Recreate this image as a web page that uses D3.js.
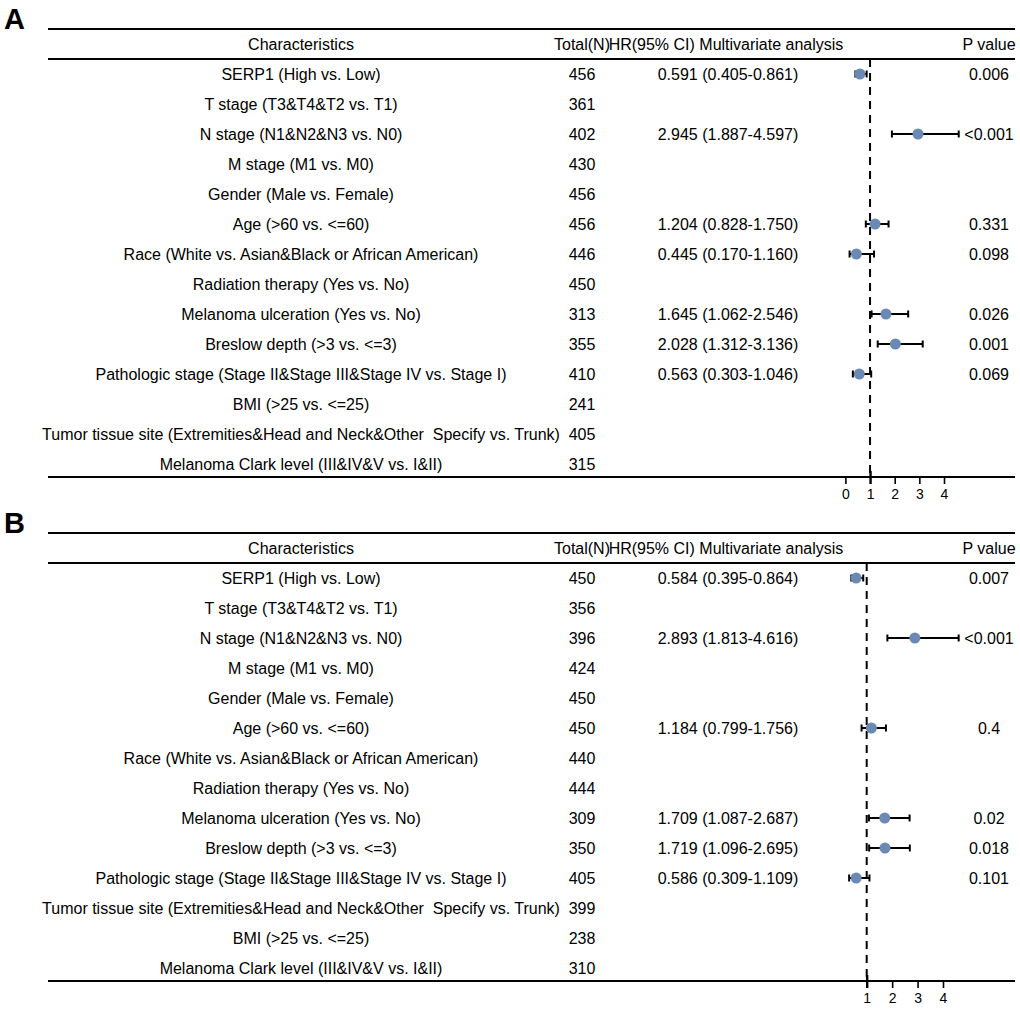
<!DOCTYPE html>
<html>
  <head>
    <meta charset="utf-8" />
    <style>
      body { margin: 0; background: #fff; }
      text { font-family: "Liberation Sans", Arial, sans-serif; fill: #000; white-space: pre; }
    </style>
  </head>
  <body>
    <svg width="1020" height="1029"></svg>
    <script src="https://d3js.org/d3.v7.min.js"></script>
    <script>
      // rows, panel A
      var charsA = [
        "SERP1 (High vs. Low)",
        "T stage (T3&T4&T2 vs. T1)",
        "N stage (N1&N2&N3 vs. N0)",
        "M stage (M1 vs. M0)",
        "Gender (Male vs. Female)",
        "Age (>60 vs. <=60)",
        "Race (White vs. Asian&Black or African American)",
        "Radiation therapy (Yes vs. No)",
        "Melanoma ulceration (Yes vs. No)",
        "Breslow depth (>3 vs. <=3)",
        "Pathologic stage (Stage II&Stage III&Stage IV vs. Stage I)",
        "BMI (>25 vs. <=25)",
        "Tumor tissue site (Extremities&Head and Neck&Other  Specify vs. Trunk)",
        "Melanoma Clark level (III&IV&V vs. I&II)"
      ];
      var totalA = [456, 361, 402, 430, 456, 456, 446, 450, 313, 355, 410, 241, 405, 315];
      var hrA = [0.591, null, 2.945, null, null, 1.204, 0.445, null, 1.645, 2.028, 0.563, null, null, null];
      var lowA = [0.405, null, 1.887, null, null, 0.828, 0.170, null, 1.062, 1.312, 0.303, null, null, null];
      var highA = [0.861, null, 4.597, null, null, 1.750, 1.160, null, 2.546, 3.136, 1.046, null, null, null];
      var pA = ["0.006", "", "<0.001", "", "", "0.331", "0.098", "", "0.026", "0.001", "0.069", "", "", ""];
      var ticksA = [0, 1, 2, 3, 4];

      // rows, panel B
      var charsB = [
        "SERP1 (High vs. Low)",
        "T stage (T3&T4&T2 vs. T1)",
        "N stage (N1&N2&N3 vs. N0)",
        "M stage (M1 vs. M0)",
        "Gender (Male vs. Female)",
        "Age (>60 vs. <=60)",
        "Race (White vs. Asian&Black or African American)",
        "Radiation therapy (Yes vs. No)",
        "Melanoma ulceration (Yes vs. No)",
        "Breslow depth (>3 vs. <=3)",
        "Pathologic stage (Stage II&Stage III&Stage IV vs. Stage I)",
        "Tumor tissue site (Extremities&Head and Neck&Other  Specify vs. Trunk)",
        "BMI (>25 vs. <=25)",
        "Melanoma Clark level (III&IV&V vs. I&II)"
      ];
      var totalB = [450, 356, 396, 424, 450, 450, 440, 444, 309, 350, 405, 399, 238, 310];
      var hrB = [0.584, null, 2.893, null, null, 1.184, null, null, 1.709, 1.719, 0.586, null, null, null];
      var lowB = [0.395, null, 1.813, null, null, 0.799, null, null, 1.087, 1.096, 0.309, null, null, null];
      var highB = [0.864, null, 4.616, null, null, 1.756, null, null, 2.687, 2.695, 1.109, null, null, null];
      var pB = ["0.007", "", "<0.001", "", "", "0.4", "", "", "0.02", "0.018", "0.101", "", "", ""];
      var ticksB = [1, 2, 3, 4];

      var svg = d3.select("svg");
      var dotColor = "#6a8ab3";

      function panel(top, letter, chars, total, hr, low, high, p, ticks, xDomain, xRange) {
        var g = svg.append("g").attr("transform", "translate(0," + top + ")");
        var rows = chars.map(function(c, i) {
          return { c: c, n: total[i], hr: hr[i], lo: low[i], hi: high[i], p: p[i] };
        });

        var x = d3.scaleLinear().domain(xDomain).range(xRange);
        var y = d3.scalePoint().domain(d3.range(rows.length)).range([74, 464]);

        g.append("text")
          .attr("x", 4).attr("y", 29)
          .attr("font-size", "29px").attr("font-weight", "bold")
          .text(letter);

        // table rules
        [29, 59, 477].forEach(function(yy) {
          g.append("line")
            .attr("x1", 48).attr("x2", 1015)
            .attr("y1", yy).attr("y2", yy)
            .attr("stroke", "#000").attr("stroke-width", 2);
        });

        var head = g.append("g").attr("font-size", "16px");
        head.append("text").attr("x", 301).attr("y", 44).attr("dy", "0.35em").attr("text-anchor", "middle").text("Characteristics");
        head.append("text").attr("x", 582).attr("y", 44).attr("dy", "0.35em").attr("text-anchor", "middle").text("Total(N)");
        head.append("text").attr("x", 726).attr("y", 44).attr("dy", "0.35em").attr("text-anchor", "middle").text("HR(95% CI) Multivariate analysis");
        head.append("text").attr("x", 989).attr("y", 44).attr("dy", "0.35em").attr("text-anchor", "middle").text("P value");

        // reference line at HR = 1
        g.append("line")
          .attr("x1", x(1)).attr("x2", x(1))
          .attr("y1", 59).attr("y2", 477)
          .attr("stroke", "#000").attr("stroke-width", 2)
          .attr("stroke-dasharray", "8,6");

        var row = g.selectAll(".row").data(rows).enter().append("g")
          .attr("class", "row")
          .attr("transform", function(d, i) { return "translate(0," + y(i) + ")"; })
          .attr("font-size", "16px");

        row.append("text").attr("x", 301).attr("dy", "0.35em").attr("text-anchor", "middle")
          .text(function(d) { return d.c; });
        row.append("text").attr("x", 582).attr("dy", "0.35em").attr("text-anchor", "middle")
          .text(function(d) { return d.n; });
        row.append("text").attr("x", 728).attr("dy", "0.35em").attr("text-anchor", "middle")
          .text(function(d) {
            return d.hr == null ? "" : d.hr.toFixed(3) + " (" + d.lo.toFixed(3) + "-" + d.hi.toFixed(3) + ")";
          });
        row.append("text").attr("x", 989).attr("dy", "0.35em").attr("text-anchor", "middle")
          .text(function(d) { return d.p; });

        var est = row.filter(function(d) { return d.hr != null; });
        est.append("line")
          .attr("x1", function(d) { return x(d.lo); })
          .attr("x2", function(d) { return x(d.hi); })
          .attr("stroke", "#000").attr("stroke-width", 2);
        est.append("line")
          .attr("x1", function(d) { return x(d.lo); })
          .attr("x2", function(d) { return x(d.lo); })
          .attr("y1", -3.5).attr("y2", 3.5)
          .attr("stroke", "#000").attr("stroke-width", 2);
        est.append("line")
          .attr("x1", function(d) { return x(d.hi); })
          .attr("x2", function(d) { return x(d.hi); })
          .attr("y1", -3.5).attr("y2", 3.5)
          .attr("stroke", "#000").attr("stroke-width", 2);
        est.append("circle")
          .attr("cx", function(d) { return x(d.hr); })
          .attr("r", 5.5)
          .attr("fill", dotColor);

        var axis = g.append("g")
          .attr("transform", "translate(0,477)")
          .call(d3.axisBottom(x).tickValues(ticks).tickSize(7).tickPadding(5).tickFormat(d3.format("d")));
        axis.select(".domain").remove();
        axis.selectAll(".tick line")
          .attr("stroke", "#000")
          .attr("stroke-width", function(d) { return d === 1 ? 2.4 : 1.6; })
          .attr("y1", function(d) { return d === 1 ? -6 : 0; });
        axis.selectAll(".tick text")
          .attr("font-size", "14px")
          .attr("font-family", "Liberation Sans, Arial, sans-serif")
          .attr("fill", "#000");
      }

      panel(0, "A", charsA, totalA, hrA, lowA, highA, pA, ticksA, [0, 4], [845.4, 944]);
      panel(504, "B", charsB, totalB, hrB, lowB, highB, pB, ticksB, [1, 4], [866.7, 943]);
    </script>
  </body>
</html>
